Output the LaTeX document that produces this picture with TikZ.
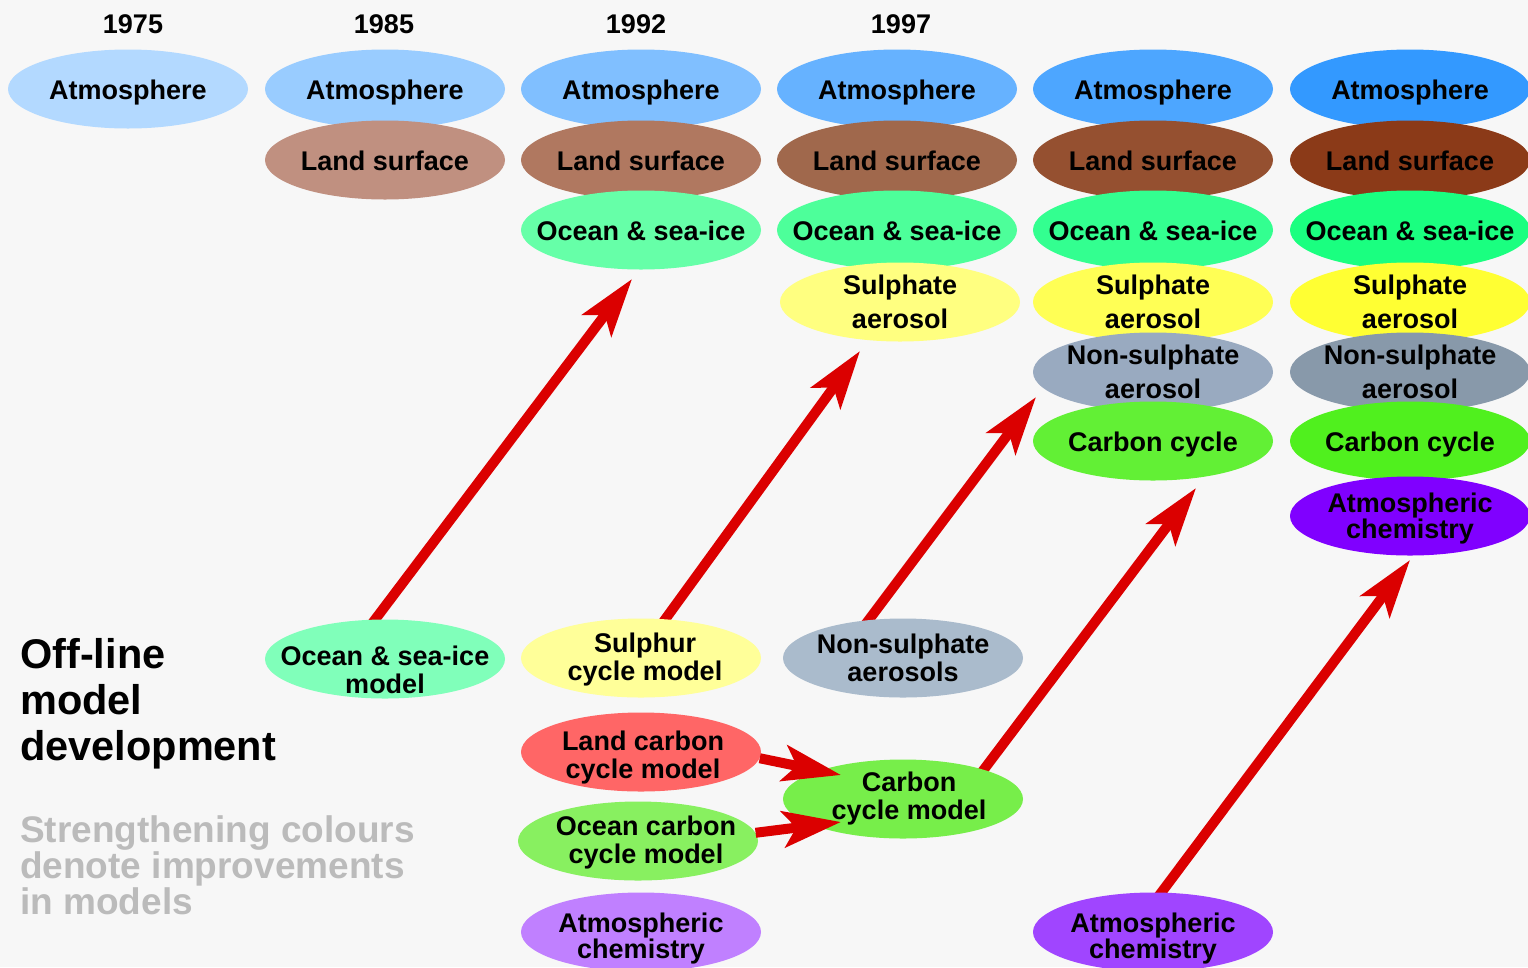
\documentclass[tikz,border=0pt]{standalone}
\usepackage{fontspec}
\setmainfont{Liberation Sans}
\usetikzlibrary{arrows.meta,shapes.geometric,calc}
\pgfdeclarelayer{background}
\pgfsetlayers{background,main}
\definecolor{bgc}{HTML}{F7F7F7}
\definecolor{graytxt}{HTML}{BBBBBB}
\definecolor{arrred}{HTML}{DB0000}
\definecolor{atmA}{HTML}{B3D9FF}
\definecolor{atmB}{HTML}{99CCFF}
\definecolor{atmC}{HTML}{80BFFF}
\definecolor{atmD}{HTML}{66B2FF}
\definecolor{atmE}{HTML}{4DA6FF}
\definecolor{atmF}{HTML}{3399FF}
\definecolor{lndB}{HTML}{C09080}
\definecolor{lndC}{HTML}{B07860}
\definecolor{lndD}{HTML}{A0684C}
\definecolor{lndE}{HTML}{955030}
\definecolor{lndF}{HTML}{8B3A18}
\definecolor{ocnC}{HTML}{66FFA8}
\definecolor{ocnD}{HTML}{4DFF9A}
\definecolor{ocnE}{HTML}{33FF90}
\definecolor{ocnF}{HTML}{1AFF80}
\definecolor{ocnOff}{HTML}{80FFBA}
\definecolor{sulD}{HTML}{FFFF80}
\definecolor{sulE}{HTML}{FFFF55}
\definecolor{sulF}{HTML}{FFFF33}
\definecolor{sulOff}{HTML}{FFFF99}
\definecolor{nsaE}{HTML}{99AAC0}
\definecolor{nsaF}{HTML}{8899AA}
\definecolor{nsaOff}{HTML}{AABBCC}
\definecolor{carE}{HTML}{62F035}
\definecolor{carF}{HTML}{50F01E}
\definecolor{carOff}{HTML}{77EE4A}
\definecolor{ocarOff}{HTML}{88F060}
\definecolor{lcarOff}{HTML}{FF6666}
\definecolor{chmF}{HTML}{8000FF}
\definecolor{chmE}{HTML}{A045FF}
\definecolor{chmC}{HTML}{C080FF}
\begin{document}
\begin{tikzpicture}[x=1pt,y=-1pt,
  ell/.style={ellipse, minimum width=240pt, minimum height=79pt, inner sep=0pt},
  one/.style={font=\fontsize{27}{28}\selectfont\bfseries, text height=20pt, text depth=0pt, inner sep=0pt},
  two/.style={font=\fontsize{27}{28}\selectfont\bfseries, align=center, inner sep=0pt},
  twowide/.style={two, font=\fontsize{27}{34}\selectfont\bfseries},
  twotight/.style={two, font=\fontsize{27}{26}\selectfont\bfseries},
  arr/.style={draw=arrred, line width=10pt, -{Stealth[length=58pt,width=36pt,inset=13pt]}},
  yearlbl/.style={font=\fontsize{27}{28}\selectfont\bfseries, anchor=base, inner sep=0pt}
]
\begin{pgfonlayer}{background}
\fill[bgc] (0,0) rectangle (1528,967);
\end{pgfonlayer}
\useasboundingbox (0,0) rectangle (1528,967);

% years
\node[yearlbl] (y1975) at (133,33) {1975};
\node[yearlbl] (y1985) at (384,33) {1985};
\node[yearlbl] (y1992) at (636,33) {1992};
\node[yearlbl] (y1997) at (901,33) {1997};

% column 1
\node[ell, fill=atmA, label={[one]center:Atmosphere}] (a1) at (128,89) {};
% column 2
\node[ell, fill=atmB, label={[one]center:Atmosphere}] (a2) at (385,89) {};
\node[ell, fill=lndB, label={[one]center:Land surface}] (l2) at (385,160) {};
% column 3
\node[ell, fill=atmC, label={[one]center:Atmosphere}] (a3) at (641,89) {};
\node[ell, fill=lndC, label={[one]center:Land surface}] (l3) at (641,160) {};
\node[ell, fill=ocnC, label={[one]center:Ocean \& sea-ice}] (o3) at (641,230) {};
% column 4
\node[ell, fill=atmD, label={[one]center:Atmosphere}] (a4) at (897,89) {};
\node[ell, fill=lndD, label={[one]center:Land surface}] (l4) at (897,160) {};
\node[ell, fill=ocnD, label={[one]center:Ocean \& sea-ice}] (o4) at (897,230) {};
\node[ell, fill=sulD, label={[twowide]center:{Sulphate\\aerosol}}] (s4) at (900,302) {};
% column 5
\node[ell, fill=atmE, label={[one]center:Atmosphere}] (a5) at (1153,89) {};
\node[ell, fill=lndE, label={[one]center:Land surface}] (l5) at (1153,160) {};
\node[ell, fill=ocnE, label={[one]center:Ocean \& sea-ice}] (o5) at (1153,230) {};
\node[ell, fill=sulE, label={[twowide]center:{Sulphate\\aerosol}}] (s5) at (1153,302) {};
\node[ell, fill=nsaE, label={[twowide]center:{Non-sulphate\\aerosol}}] (n5) at (1153,372) {};
\node[ell, fill=carE, label={[one]center:Carbon cycle}] (c5) at (1153,441) {};
% column 6
\node[ell, fill=atmF, label={[one]center:Atmosphere}] (a6) at (1410,89) {};
\node[ell, fill=lndF, label={[one]center:Land surface}] (l6) at (1410,160) {};
\node[ell, fill=ocnF, label={[one]center:Ocean \& sea-ice}] (o6) at (1410,230) {};
\node[ell, fill=sulF, label={[twowide]center:{Sulphate\\aerosol}}] (s6) at (1410,302) {};
\node[ell, fill=nsaF, label={[twowide]center:{Non-sulphate\\aerosol}}] (n6) at (1410,372) {};
\node[ell, fill=carF, label={[one]center:Carbon cycle}] (c6) at (1410,441) {};
\node[ell, fill=chmF, label={[twotight, yshift=-3pt]center:{Atmospheric\\chemistry}}] (h6) at (1410,516) {};

% off-line models
\node[ell, fill=ocnOff, label={[two, yshift=-11pt]center:{Ocean \& sea-ice\\model}}] (om) at (385,659) {};
\node[ell, fill=sulOff, label={[two, xshift=4pt, yshift=-2pt]center:{Sulphur\\cycle model}}] (sm) at (641,658) {};
\node[ell, fill=nsaOff, label={[two]center:{Non-sulphate\\aerosols}}] (nm) at (903,658) {};
\node[ell, fill=lcarOff, label={[two, xshift=2pt, yshift=-6pt]center:{Land carbon\\cycle model}}] (lcm) at (641,752) {};
\node[ell, fill=carOff, label={[two, xshift=6pt]center:{Carbon\\cycle model}}] (ccm) at (903,799) {};
\node[ell, fill=ocarOff, label={[two, xshift=8pt, yshift=-2pt]center:{Ocean carbon\\cycle model}}] (ocm) at (638,841) {};
\node[ell, fill=chmC, label={[twotight, yshift=-7pt]center:{Atmospheric\\chemistry}}] (hm3) at (641,932) {};
\node[ell, fill=chmE, label={[twotight, yshift=-7pt]center:{Atmospheric\\chemistry}}] (hm5) at (1153,932) {};

% left texts
\node[anchor=north west, inner sep=0pt, align=left, font=\fontsize{41.5}{46}\selectfont\bfseries] (title) at (20,638) {Off-line\\model\\development};
\node[anchor=north west, inner sep=0pt, align=left, text=graytxt, font=\fontsize{37}{36}\selectfont\bfseries] (note) at (20,815) {Strengthening colours\\denote improvements\\in models};

% arrow targets
\coordinate (t1) at (632,279);
\coordinate (t2) at (860,351);
\coordinate (t3) at (1036,397);
\coordinate (t4) at (1196,488);
\coordinate (t5) at (1410,560);
\coordinate (t6) at (841,775);
\coordinate (t7) at (841,822);

\begin{pgfonlayer}{background}
\draw[arr] ($(om.104)!-20pt!(t1)$) -- (t1);
\draw[arr] ($(sm.58)!-20pt!(t2)$) -- (t2);
\draw[arr] ($(nm.132)!-20pt!(t3)$) -- (t3);
\draw[arr] ($(ccm.20)!-20pt!(t4)$) -- (t4);
\draw[arr] ($(hm5.78)!-20pt!(t5)$) -- (t5);
\end{pgfonlayer}
\draw[arr] (lcm.-3) -- (t6);
\draw[arr] (ocm.4) -- (t7);
\end{tikzpicture}
\end{document}
